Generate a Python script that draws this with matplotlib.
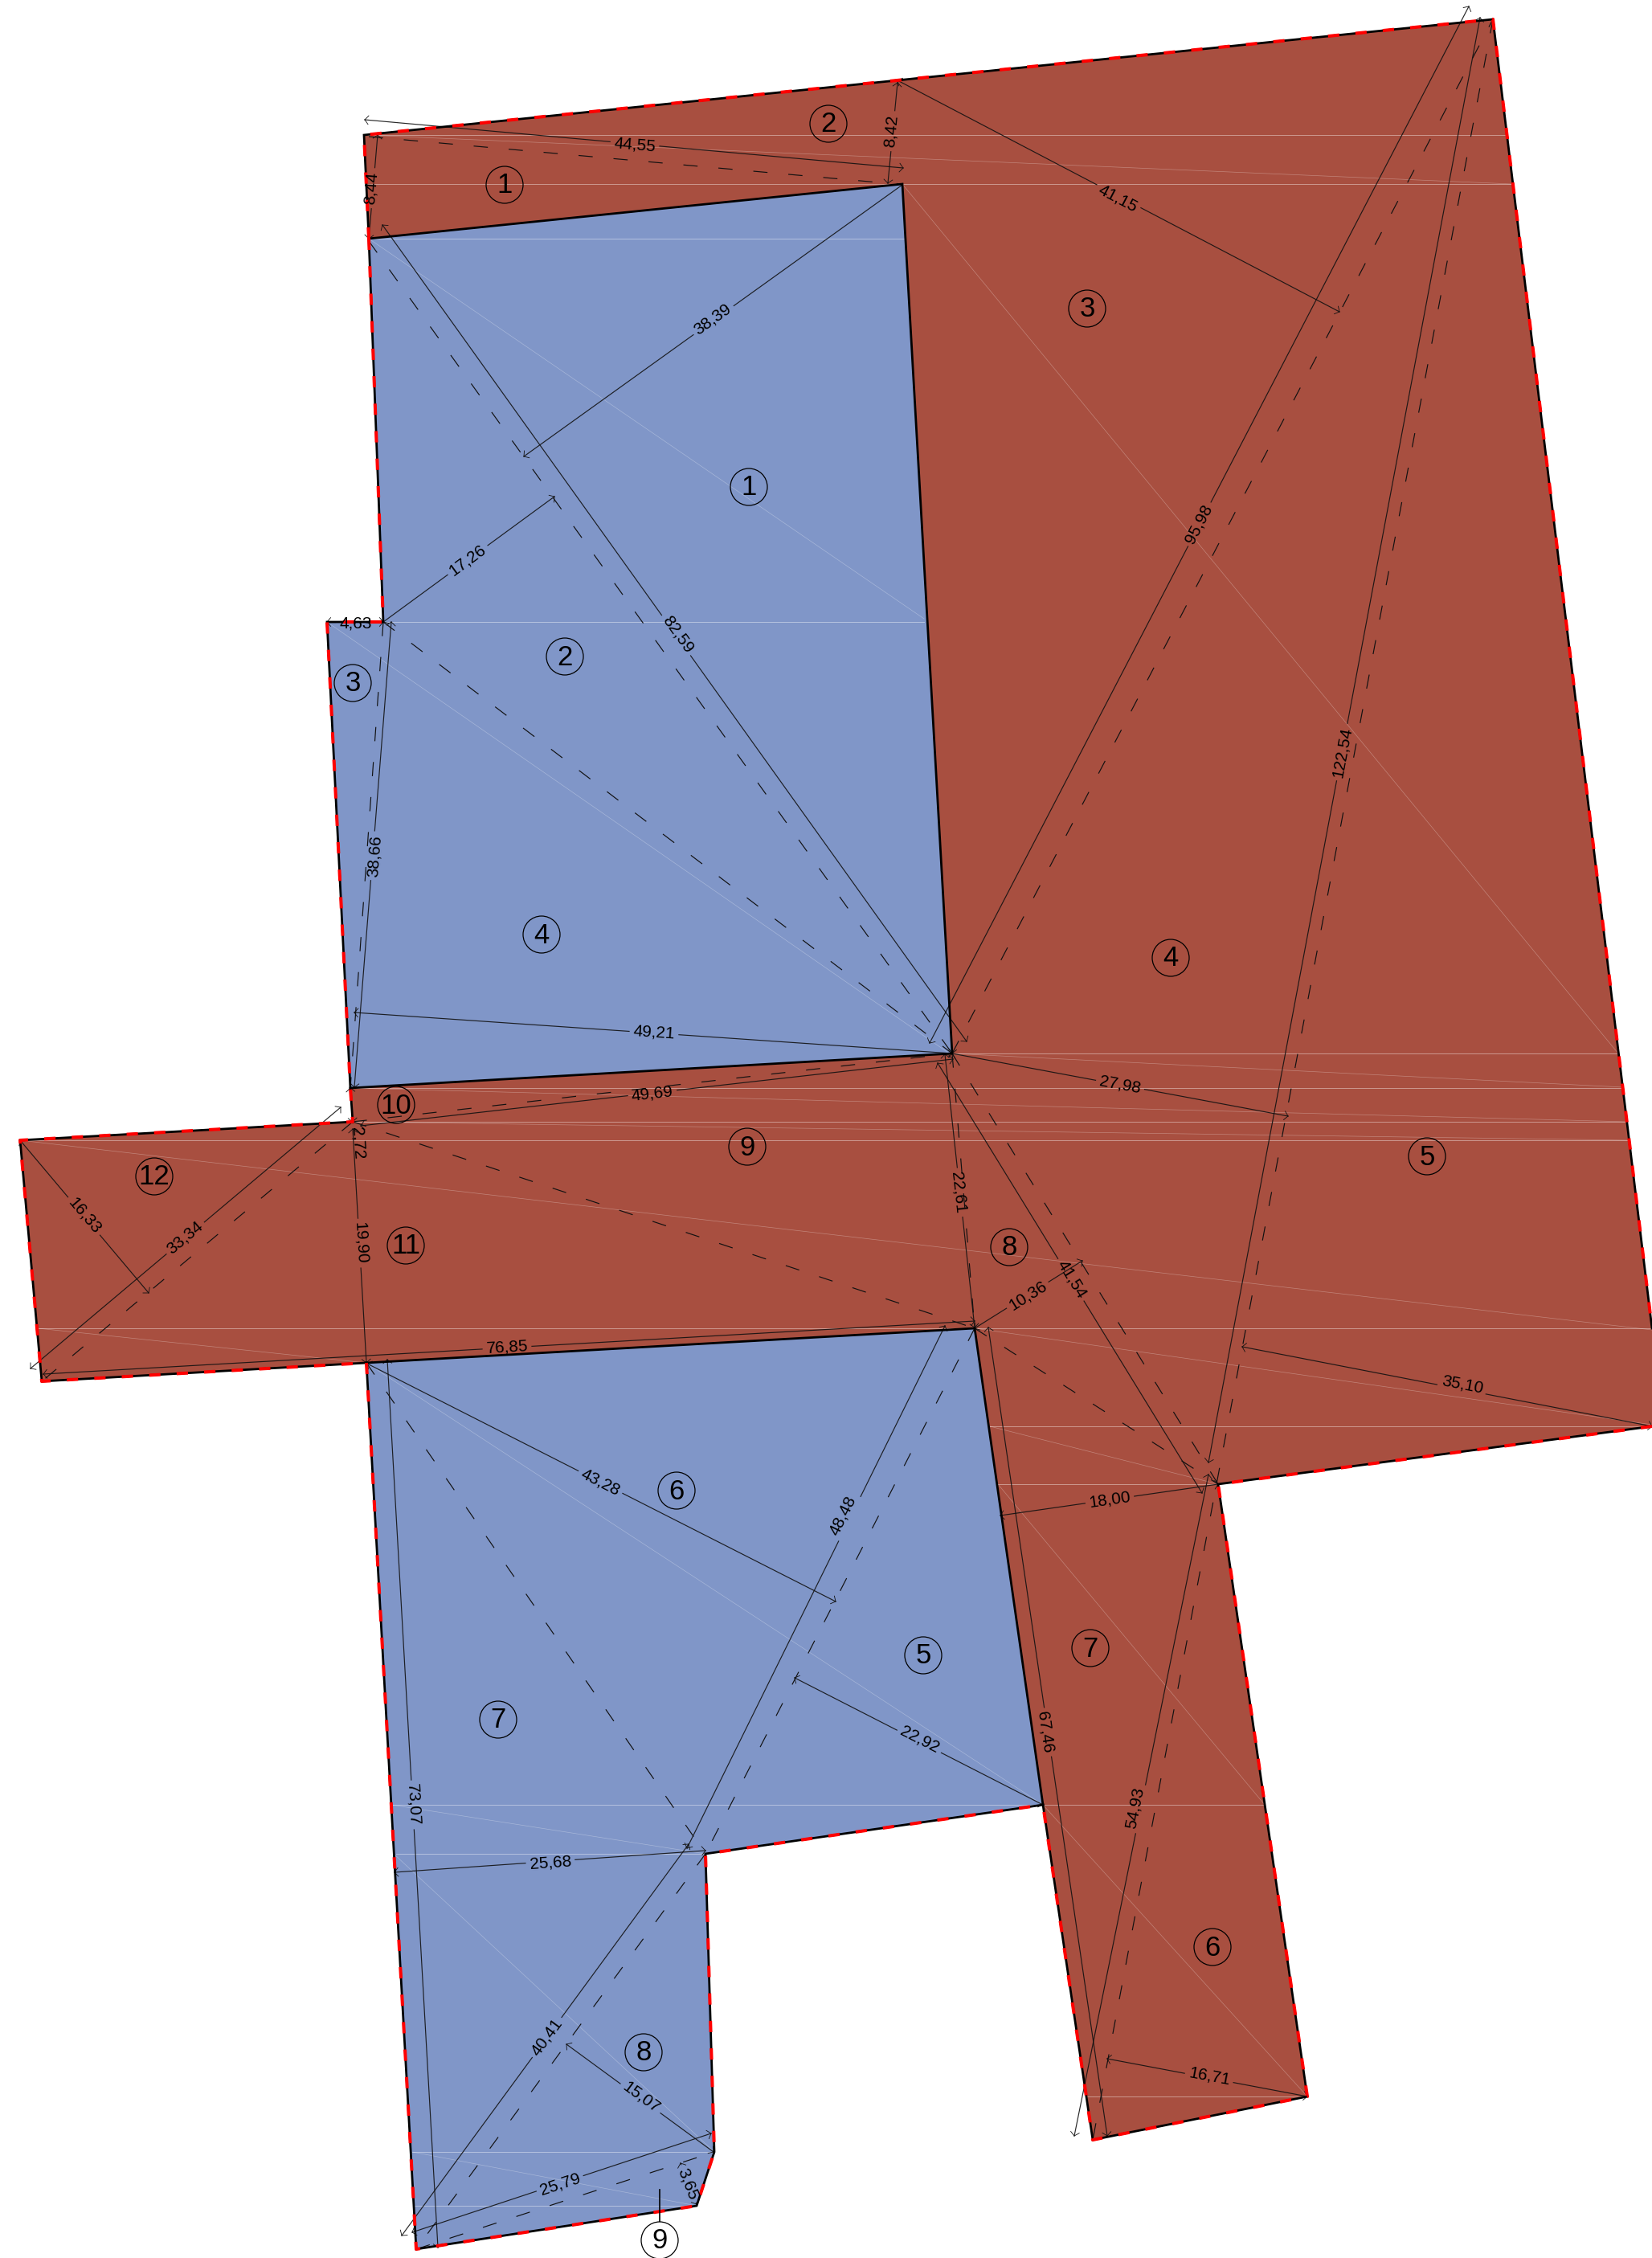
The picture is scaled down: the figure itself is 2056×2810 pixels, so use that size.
import numpy as np
import matplotlib
matplotlib.use("Agg")
import matplotlib.pyplot as plt
from matplotlib.patches import Polygon, Circle

plt.rcParams['font.family'] = ['Liberation Sans', 'DejaVu Sans']

W, H = 2056, 2810
BROWN = '#a84f40'
BLUE = '#8096c8'

# outlines, in drawing units (pixels of the plan)
brown_area = [(453, 168), (1858, 24), (2056, 1653), (2056, 1775), (1516, 1847), (1627, 2609),
              (1360, 2663), (1298, 2246), (1213, 1653), (456, 1696), (52, 1719), (25, 1419),
              (439, 1396), (436, 1354), (1185, 1311), (1123, 229), (459, 297)]
blue_upper = [(459, 297), (1123, 229), (1185, 1311), (436, 1354), (407, 774), (477, 774)]
blue_lower = [(456, 1696), (1213, 1653), (1298, 2246), (878, 2307), (889, 2678),
              (867, 2745), (518, 2799)]

# outer edges get the red dashes, inner ones stay plain black
outer_edges = [
    [(459, 297), (453, 168), (1858, 24), (2056, 1653)],
    [(2056, 1775), (1516, 1847), (1627, 2609), (1360, 2663), (1298, 2246)],
    [(459, 297), (477, 774), (407, 774), (436, 1354), (439, 1396), (25, 1419), (52, 1719), (456, 1696)],
    [(456, 1696), (518, 2799), (867, 2745), (889, 2678), (878, 2307), (1298, 2246)],
]
inner_edges = [
    [(459, 297), (1123, 229), (1185, 1311), (436, 1354)],
    [(456, 1696), (1213, 1653), (1298, 2246)],
]

# thin light mesh lines, level ones are a bit brighter than the slanted ones
mesh_level = [
    ((453, 168), (1875, 168)), ((453, 229), (1882, 229)), ((459, 297), (1125, 297)),
    ((477, 774), (1150, 774)), ((1185, 1311), (2014, 1311)), ((436, 1354), (2020, 1354)),
    ((439, 1396), (2026, 1396)), ((25, 1419), (2029, 1419)), ((47, 1653), (2056, 1653)),
    ((1232, 1775), (2056, 1775)), ((1242, 1847), (1516, 1847)), ((1298, 2246), (1574, 2246)),
    ((1353, 2609), (1627, 2609)), ((487, 2246), (1298, 2246)), ((493, 2307), (878, 2307)),
    ((513, 2678), (889, 2678)), ((516, 2745), (867, 2745)),
]
mesh_slant = [
    ((453, 168), (1882, 229)), ((459, 297), (1150, 770)), ((407, 774), (1180, 1310)),
    ((1123, 229), (2014, 1311)), ((1185, 1311), (2020, 1353)), ((436, 1354), (2026, 1396)),
    ((439, 1396), (2029, 1419)), ((25, 1419), (2056, 1655)), ((47, 1653), (456, 1696)),
    ((1213, 1653), (2056, 1773)), ((1232, 1775), (1516, 1847)), ((1242, 1847), (1574, 2246)),
    ((1298, 2246), (1627, 2609)), ((456, 1696), (1298, 2246)), ((487, 2246), (878, 2307)),
    ((490, 2307), (889, 2678)), ((513, 2678), (867, 2745)),
]

# dashed yield lines
dash_lines = [
    ((459, 170), (1104, 228)), ((459, 300), (1185, 1311)), ((477, 774), (1185, 1311)),
    ((477, 774), (436, 1354)), ((1185, 1311), (1858, 24)), ((1858, 24), (1360, 2663)),
    ((1185, 1311), (1516, 1847)), ((1213, 1653), (1516, 1847)), ((1185, 1311), (1213, 1653)),
    ((439, 1396), (1213, 1653)), ((439, 1396), (1185, 1311)), ((439, 1396), (52, 1719)),
    ((1213, 1653), (878, 2307)), ((878, 2307), (518, 2799)), ((456, 1696), (878, 2307)),
    ((518, 2799), (889, 2678)),
]

# dimension lines: start, end, label, label position
dim_start = [(454, 149), (470, 168), (1117, 103), (1123, 230), (476, 280), (477, 774), (407, 774),
             (487, 774), (441, 1260), (449, 1401), (1157, 1298), (1842, 22), (1117, 100),
             (1185, 1311), (1546, 1676), (1176, 1312), (1167, 1323), (1213, 1653), (1245, 1886),
             (1230, 1652), (1378, 2562), (54, 1710), (439, 1405), (436, 1354), (424, 1378),
             (25, 1419), (457, 1697), (1176, 1650), (989, 2088), (491, 2330), (482, 1692),
             (857, 2295), (705, 2544), (513, 2778), (847, 2692), (1504, 1835)]
dim_end = [(1124, 209), (459, 297), (1105, 228), (652, 568), (1203, 1296), (690, 618), (477, 774),
           (441, 1353), (1185, 1311), (1186, 1318), (1828, 8), (1504, 1820), (1667, 388),
           (1603, 1389), (2056, 1775), (1213, 1652), (1496, 1858), (1347, 1569), (1516, 1847),
           (1378, 2658), (1627, 2609), (1213, 1644), (456, 1696), (439, 1396), (38, 1703),
           (185, 1609), (1040, 1993), (855, 2300), (1298, 2246), (878, 2303), (545, 2797),
           (500, 2782), (888, 2678), (885, 2655), (867, 2743), (1337, 2658)]
dim_labels = ['44,55', '8,44', '8,42', '38,39', '82,59', '17,26', '4,63', '38,66', '49,21', '49,69',
              '95,98', '122,54', '41,15', '27,98', '35,10', '22,61', '41,54', '10,36', '18,00',
              '67,46', '16,71', '76,85', '19,90', '2,72', '33,34', '16,33', '43,28', '48,48',
              '22,92', '25,68', '73,07', '40,41', '15,07', '25,79', '3,65', '54,93']
dim_label_pos = [(790, 180), (462, 234), (1109, 163), (887, 397), (844, 789), (582, 697), (443, 776),
                 (466, 1065), (814, 1285), (812, 1361), (1492, 652), (1670, 936), (1391, 247),
                 (1394, 1350), (1820, 1723), (1193, 1484), (1334, 1592), (1279, 1612), (1381, 1866),
                 (1301, 2156), (1505, 2584), (631, 1677), (449, 1547), (445, 1423), (230, 1540),
                 (105, 1513), (747, 1845), (1049, 1886), (1145, 2165), (685, 2318), (514, 2246),
                 (680, 2535), (798, 2610), (697, 2718), (856, 2718), (1412, 2250)]

# numbered circles
blue_ids = ['1', '2', '3', '4', '5', '6', '7', '8', '9']
blue_id_pos = [(932, 606), (703, 817), (439, 850), (674, 1163), (1149, 2060), (842, 1855),
               (620, 2140), (801, 2554), (821, 2788)]
brown_ids = ['1', '2', '3', '4', '5', '6', '7', '8', '9', '10', '11', '12']
brown_id_pos = [(628, 230), (1031, 154), (1353, 384), (1457, 1192), (1776, 1439), (1509, 2423),
                (1357, 2051), (1256, 1552), (930, 1427), (493, 1375), (505, 1550), (192, 1464)]
stem_x = [821, 821]
stem_y = [2725, 2765]


def draw_dimension(ax, p, q, label, pos):
    p = np.array(p, float)
    q = np.array(q, float)
    d = q - p
    length = np.hypot(*d)
    u = d / length
    if u[0] < 0 or (u[0] == 0 and u[1] > 0):
        angle = np.degrees(np.arctan2(u[1], u[0])) + 180
    else:
        angle = np.degrees(np.arctan2(u[1], u[0]))
    # label sits in a gap of the line
    half = (len(label) * 5.4 + 4)
    t = np.dot(np.array(pos, float) - p, u)
    a = p + u * (t - half)
    b = p + u * (t + half)
    if t - half > 0:
        ax.plot([p[0], a[0]], [p[1], a[1]], color='#111111', lw=0.85, alpha=0.9, zorder=4)
    if t + half < length:
        ax.plot([b[0], q[0]], [b[1], q[1]], color='#111111', lw=0.85, alpha=0.9, zorder=4)
    # small end ticks
    for tip, sgn in ((p, 1), (q, -1)):
        for rot in (np.radians(50), -np.radians(50)):
            r = np.array([[np.cos(rot), -np.sin(rot)], [np.sin(rot), np.cos(rot)]])
            end = tip + r @ (u * sgn) * 7
            ax.plot([tip[0], end[0]], [tip[1], end[1]], color='#111111', lw=0.6, zorder=4)
    ax.text(pos[0], pos[1], label, rotation=-angle, rotation_mode='anchor', ha='center',
            va='center', fontsize=15, color='black', zorder=6)


def draw_number(ax, x, y, label, fill='none'):
    ax.add_patch(Circle((x, y), 23, facecolor=fill, edgecolor='black', lw=0.9, zorder=7))
    ax.text(x, y + 1, label, ha='center', va='center', fontsize=25, color='black', zorder=8)


fig = plt.figure(figsize=(W / 100, H / 100), dpi=100, facecolor='white')
ax = fig.add_axes([0, 0, 1, 1])
ax.set_xlim(0, W)
ax.set_ylim(H, 0)
ax.axis('off')

ax.add_patch(Polygon(brown_area, closed=True, facecolor=BROWN, edgecolor='none', zorder=1))
ax.add_patch(Polygon(blue_upper, closed=True, facecolor=BLUE, edgecolor='none', zorder=1))
ax.add_patch(Polygon(blue_lower, closed=True, facecolor=BLUE, edgecolor='none', zorder=1))

for a, b in mesh_level:
    ax.plot([a[0], b[0]], [a[1], b[1]], color='white', lw=0.7, alpha=0.42, zorder=2)
for a, b in mesh_slant:
    ax.plot([a[0], b[0]], [a[1], b[1]], color='white', lw=0.5, alpha=0.3, zorder=2)

for a, b in dash_lines:
    ax.plot([a[0], b[0]], [a[1], b[1]], color='#111111', lw=0.85, zorder=3,
            linestyle=(0, (15, 22)), dash_capstyle='butt')

for p, q, lab, pos in zip(dim_start, dim_end, dim_labels, dim_label_pos):
    draw_dimension(ax, p, q, lab, pos)

for edge in outer_edges + inner_edges:
    xs, ys = zip(*edge)
    ax.plot(xs, ys, color='black', lw=2.0, zorder=5, solid_joinstyle='miter')
for edge in outer_edges:
    xs, ys = zip(*edge)
    ax.plot(xs, ys, color='#ff0000', lw=2.9, zorder=5.5, linestyle=(0, (3.5, 5.0)),
            dash_capstyle='butt')

for lab, (x, y) in zip(blue_ids[:-1], blue_id_pos[:-1]):
    draw_number(ax, x, y, lab)
for lab, (x, y) in zip(brown_ids, brown_id_pos):
    draw_number(ax, x, y, lab)
ax.plot(stem_x, stem_y, color='black', lw=1.2, zorder=6)
draw_number(ax, blue_id_pos[-1][0], blue_id_pos[-1][1], blue_ids[-1], fill='white')

fig.savefig('out.png', dpi=100, facecolor='white')
plt.close(fig)
